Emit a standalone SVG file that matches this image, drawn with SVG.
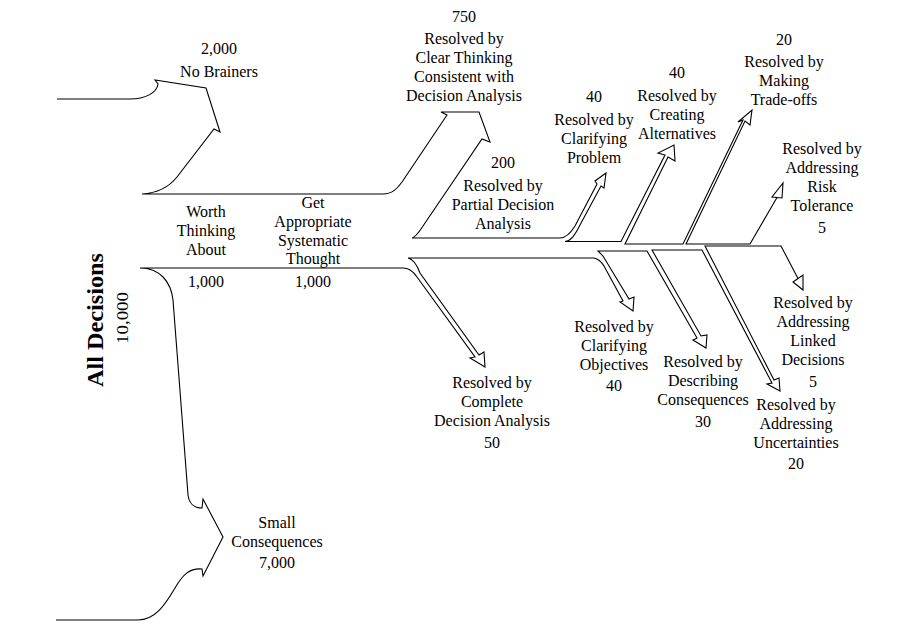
<svg xmlns="http://www.w3.org/2000/svg" width="898" height="632" viewBox="0 0 898 632">
<style>
text{font-family:"Liberation Serif","Times New Roman",serif;font-size:16px;fill:#000;text-anchor:middle}
.flow{fill:none;stroke:#000;stroke-width:1.1;stroke-linejoin:miter}
.title{font-weight:bold;font-size:24px}
</style>
<rect width="898" height="632" fill="#fff"/>
<g id="connectors">
<path class="flow" d="M57,99 H130 C145,99 157,93 158,84 L155,80 L206,88 L220,132 L214,129 L177,177 C169,187 158,193 142,194 H383 C392,194 397,189 402,182 L447,115 L441,112 H479 L490,142 L482,139 L423,226 C419,232 416,237 412,238 H560 C566,238 570,234 575,226 L597,184 L595,181 L606,173 L604,188 L601,186 L580,225 C575,235 571,241 565,241.5 H621 L665,155 L658,153 L674,145 L675,161 L668,157 L625,244 H683 L743,120 L738,122 L752,110 L750,125 L745,121 L686,244 H750 L777,197.5 L772,197 L783,183 L782,198 L777,197.5"/>
<path class="flow" d="M56,620 H138 C155,620 165,605 175,588 C183,574 190,568 202,569 L203,576 L223,537 L203,499 L202,508 C194,508 189,503 188,495 L173,300 C171,282 160,268 140,268 H403 C409,268 413,271 417,277 L475,357 L470,358 L485,367 L484,352 L479,355 L420,273 C417,265 413,259 408,258 H594 C598,259 601,261 604,266 L623,301 L620,302 L633,311 L634,297 L629,299 L603,256 L598,251 H647 L697,338 L693,340 L706,348 L707,335 L701,336 L652,250 H702 L772,383 L767,384 L780,391 L779,378 L774,380 L705,246 H781 L798,278.5 L793,282 L803,290 L803,275 L798,278.5"/>
</g>
<g id="all-decisions">
<text class="title" transform="translate(103,320) rotate(-90)" textLength="134" lengthAdjust="spacingAndGlyphs">All Decisions</text>
<text transform="translate(128,318) rotate(-90)" textLength="52" lengthAdjust="spacingAndGlyphs">10,000</text>
</g>
<g id="no-brainers">
<text x="219" y="54">2,000</text>
<text x="219" y="77">No Brainers</text>
</g>
<g id="worth-thinking">
<text x="206" y="217">Worth</text>
<text x="206" y="236">Thinking</text>
<text x="206" y="255">About</text>
<text x="206" y="287">1,000</text>
</g>
<g id="systematic-thought">
<text x="313" y="208">Get</text>
<text x="313" y="227">Appropriate</text>
<text x="313" y="246">Systematic</text>
<text x="313" y="264">Thought</text>
<text x="313" y="287">1,000</text>
</g>
<g id="clear-thinking">
<text x="464" y="22">750</text>
<text x="464" y="44">Resolved by</text>
<text x="464" y="63">Clear Thinking</text>
<text x="464" y="82">Consistent with</text>
<text x="464" y="101">Decision Analysis</text>
</g>
<g id="partial-analysis">
<text x="503" y="168">200</text>
<text x="503" y="191">Resolved by</text>
<text x="503" y="210">Partial Decision</text>
<text x="503" y="229">Analysis</text>
</g>
<g id="clarifying-problem">
<text x="594" y="102">40</text>
<text x="594" y="125">Resolved by</text>
<text x="594" y="144">Clarifying</text>
<text x="594" y="163">Problem</text>
</g>
<g id="creating-alternatives">
<text x="677" y="78">40</text>
<text x="677" y="101">Resolved by</text>
<text x="677" y="120">Creating</text>
<text x="677" y="139">Alternatives</text>
</g>
<g id="trade-offs">
<text x="784" y="45">20</text>
<text x="784" y="67">Resolved by</text>
<text x="784" y="86">Making</text>
<text x="784" y="105">Trade-offs</text>
</g>
<g id="risk-tolerance">
<text x="822" y="154">Resolved by</text>
<text x="822" y="173">Addressing</text>
<text x="822" y="192">Risk</text>
<text x="822" y="211">Tolerance</text>
<text x="822" y="233">5</text>
</g>
<g id="linked-decisions">
<text x="813" y="308">Resolved by</text>
<text x="813" y="327">Addressing</text>
<text x="813" y="346">Linked</text>
<text x="813" y="365">Decisions</text>
<text x="813" y="387">5</text>
</g>
<g id="clarifying-objectives">
<text x="614" y="332">Resolved by</text>
<text x="614" y="351">Clarifying</text>
<text x="614" y="370">Objectives</text>
<text x="614" y="391">40</text>
</g>
<g id="describing-consequences">
<text x="703" y="367">Resolved by</text>
<text x="703" y="386">Describing</text>
<text x="703" y="405">Consequences</text>
<text x="703" y="427">30</text>
</g>
<g id="uncertainties">
<text x="796" y="410">Resolved by</text>
<text x="796" y="429">Addressing</text>
<text x="796" y="448">Uncertainties</text>
<text x="796" y="469">20</text>
</g>
<g id="complete-analysis">
<text x="492" y="388">Resolved by</text>
<text x="492" y="407">Complete</text>
<text x="492" y="426">Decision Analysis</text>
<text x="492" y="448">50</text>
</g>
<g id="small-consequences">
<text x="277" y="528">Small</text>
<text x="277" y="547">Consequences</text>
<text x="277" y="568">7,000</text>
</g>
</svg>
